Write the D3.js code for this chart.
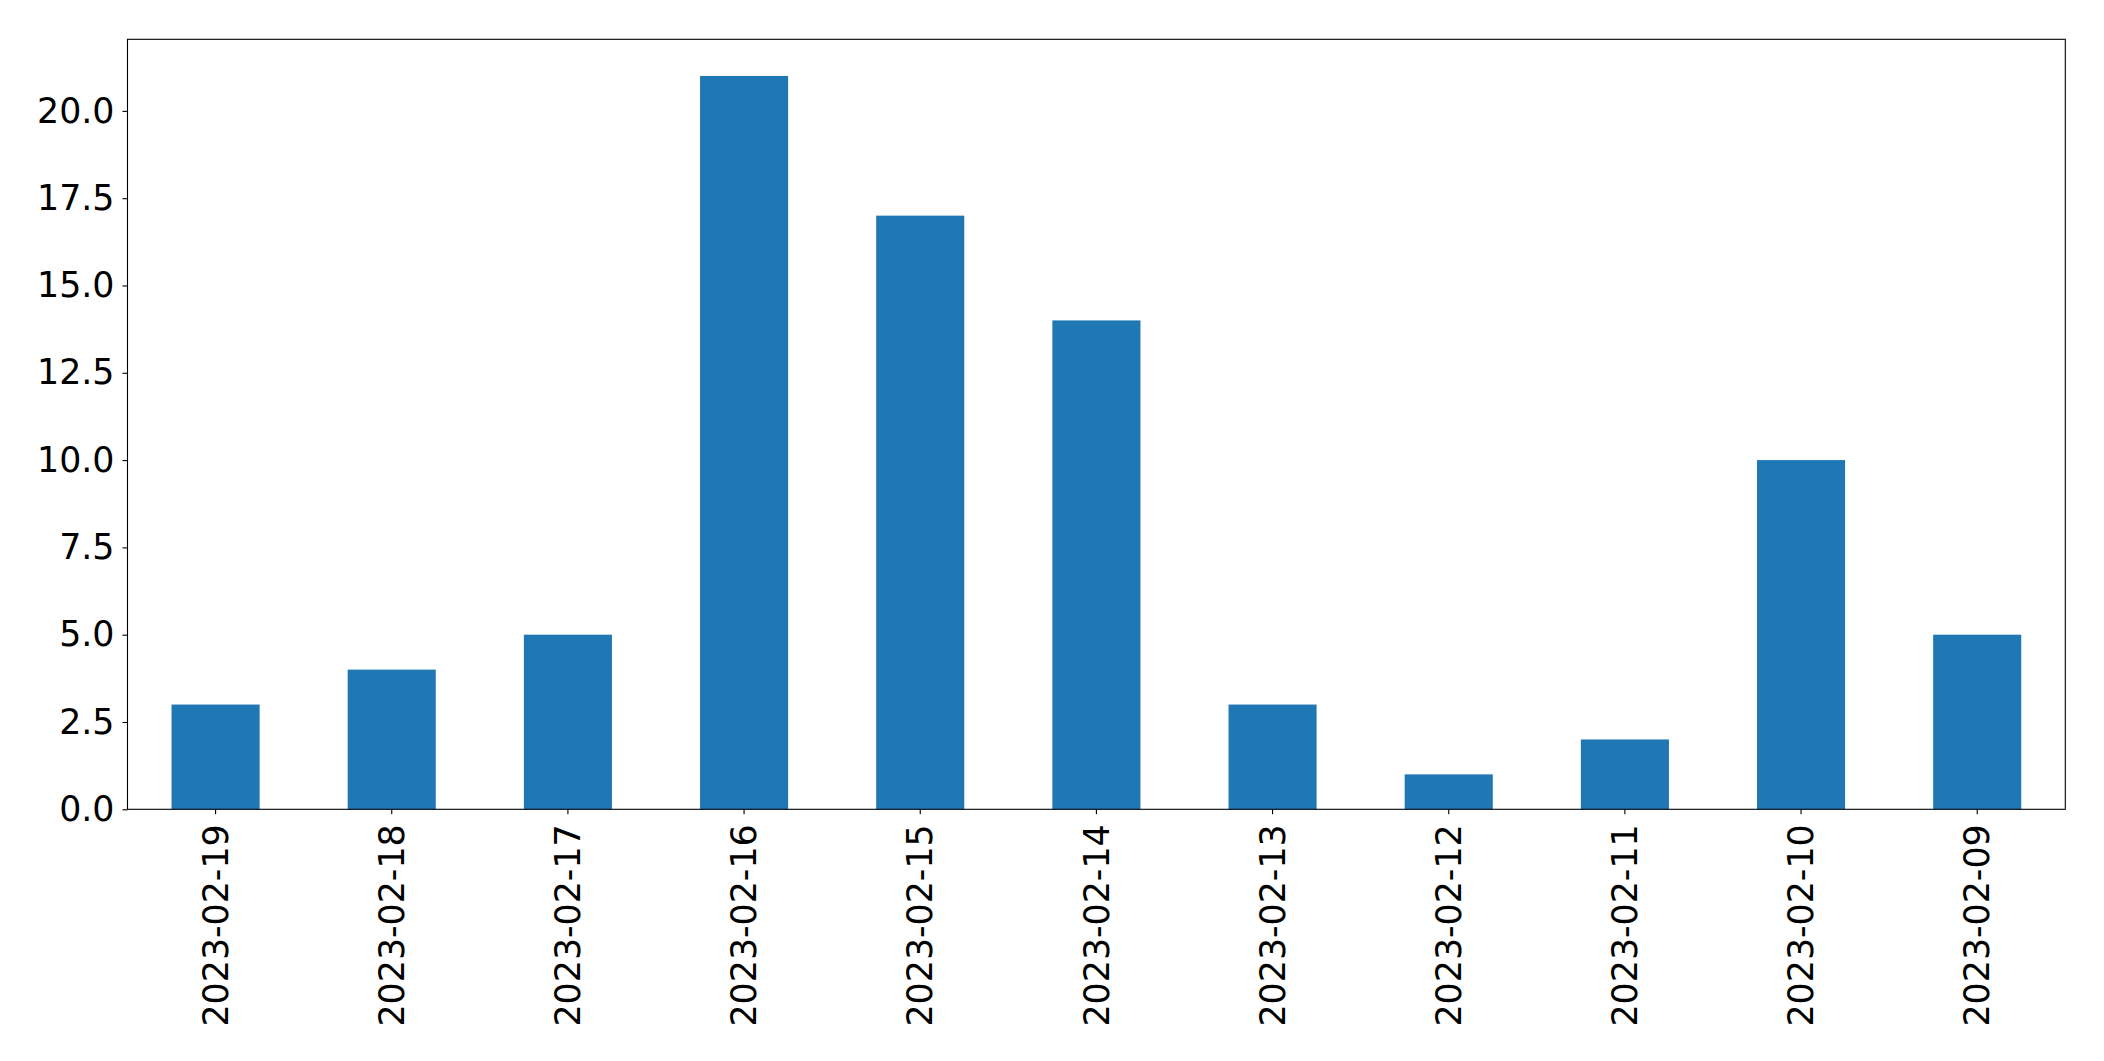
<!DOCTYPE html>
<html><head><meta charset="utf-8">
<script src="https://cdn.jsdelivr.net/npm/d3@7"></script>
<style>body{margin:0;background:#fff}svg{display:block}text{font-family:"DejaVu Sans",sans-serif}</style>
</head><body>
<script>
const categories = ["2023-02-19","2023-02-18","2023-02-17","2023-02-16","2023-02-15","2023-02-14","2023-02-13","2023-02-12","2023-02-11","2023-02-10","2023-02-09"];
const values = [3,4,5,21,17,14,3,1,2,10,5];
const yTicks = [0,2.5,5,7.5,10,12.5,15,17.5,20];

const W=2104,H=1061;
const m={left:127.5,right:2104-2065.3,top:39.3,bottom:1061-809.3};
const svg=d3.select("body").append("svg").attr("width",W).attr("height",H);
const iw=W-m.left-m.right, ih=H-m.top-m.bottom;
const g=svg.append("g").attr("transform",`translate(${m.left},${m.top})`);
const x=d3.scaleBand().domain(categories).range([0,iw]).paddingInner(0.5).paddingOuter(0.25);
const y=d3.scaleLinear().domain([0,d3.max(values)*1.05]).range([ih,0]);

g.selectAll("rect.bar").data(values).join("rect").attr("class","bar")
 .attr("x",(d,i)=>x(categories[i])).attr("width",x.bandwidth())
 .attr("y",d=>y(d)).attr("height",d=>y(0)-y(d)).attr("fill","#1f77b4");

const fs=34.8;
const ya=g.append("g").call(d3.axisLeft(y).tickValues(yTicks).tickFormat(d3.format(".1f")).tickSize(5).tickPadding(8));
ya.select(".domain").remove();
ya.selectAll("text").attr("font-size",fs).attr("fill","#000").attr("font-family","DejaVu Sans");
ya.selectAll("line").attr("stroke","#000").attr("stroke-width",1.1);

const xa=g.append("g").attr("transform",`translate(0,${ih})`).call(d3.axisBottom(x).tickSize(5).tickPadding(8));
xa.select(".domain").remove();
xa.selectAll("line").attr("stroke","#000").attr("stroke-width",1.1);
xa.selectAll("text").attr("font-size",fs).attr("fill","#000").attr("font-family","DejaVu Sans")
  .attr("transform","rotate(-90)").attr("text-anchor","end").attr("dy","0.35em").attr("x",-15).attr("y",0);

g.append("rect").attr("x",0).attr("y",0).attr("width",iw).attr("height",ih)
 .attr("fill","none").attr("stroke","#000").attr("stroke-width",1.1);
</script>
</body></html>
